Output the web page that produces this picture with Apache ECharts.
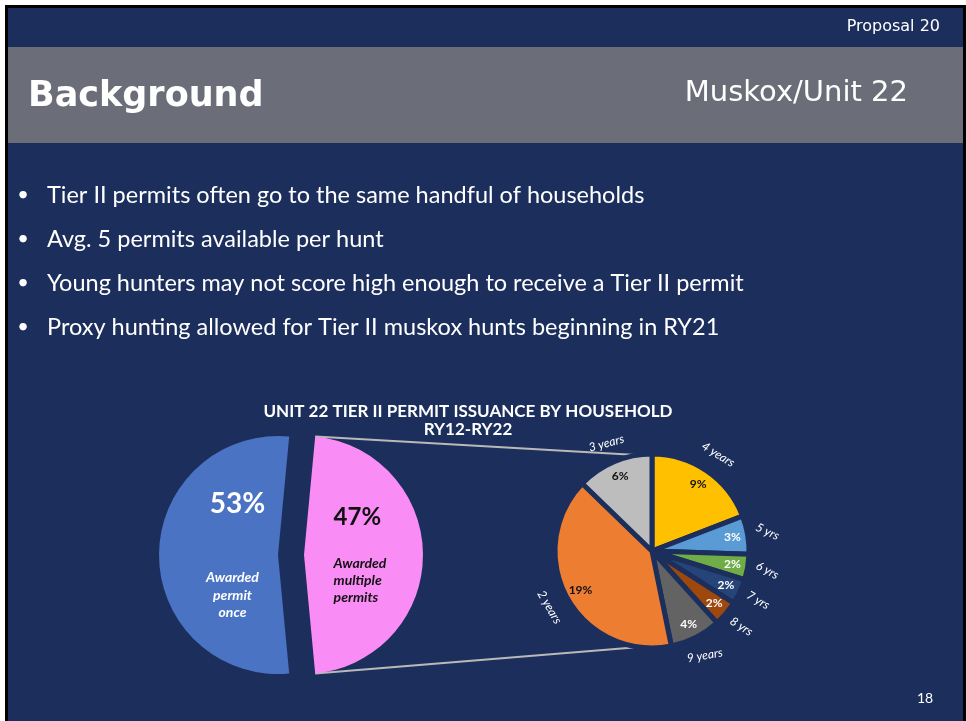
<!DOCTYPE html>
<html>
<head>
<meta charset="utf-8">
<title>Unit 22 Tier II permit issuance</title>
<script src="https://cdn.jsdelivr.net/npm/echarts@6/dist/echarts.min.js"></script>
<style>
  html, body { margin: 0; padding: 0; background: #fff; }
  #chart { width: 966px; height: 721px; }
</style>
</head>
<body>
<div id="chart"></div>
<script>
// slide text
const slideTag = 'Proposal 20'
const slideTitle = 'Background'
const slideSubtitle = 'Muskox/Unit 22'
const pageNumber = '18'
const bullets = [
  'Tier II permits often go to the same handful of households',
  'Avg. 5 permits available per hunt',
  'Young hunters may not score high enough to receive a Tier II permit',
  'Proxy hunting allowed for Tier II muskox hunts beginning in RY21'
]
const chartTitle = 'UNIT 22 TIER II PERMIT ISSUANCE BY HOUSEHOLD'
const chartSubtitle = 'RY12-RY22'

// main pie (share of households, %)
const mainNames = ['Awarded permit once', 'Awarded multiple permits']
const mainValues = [53, 47]

// breakdown of "multiple permits" (% of all households)
const yearNames = ['4 years', '5 yrs', '6 yrs', '7 yrs', '8 yrs', '9 years', '2 years', '3 years']
const yearValues = [9, 3, 2, 2, 2, 4, 19, 6]

// styles
const NAVY = '#1c2f5c'
const mainColors = ['#4a73c4', '#fa8cf5']
const yearColors = ['#ffc000', '#5b9bd5', '#70ad47', '#264478', '#9e480e', '#636363', '#ed7d31', '#bdbdbd']
const pctColors = ['#111', '#fff', '#fff', '#fff', '#fff', '#fff', '#111', '#111']
const nameRotate = [-32, -25, -28, -30, -32, 10, -60, 15]

const L = { cx: 291, cy: 555, r: 119, off: 13 }
const R = { cx: 652, cy: 551, r: 97 }

const chart = echarts.init(document.getElementById('chart'))

const total = mainValues[0] + mainValues[1]
const pinkSpan = mainValues[1] / total * 360
const mainStart = pinkSpan / 2 + (360 - pinkSpan) // keep pink centred on the right

// connector end points from the layout
const a = (pinkSpan / 2) * Math.PI / 180
const px = L.cx + L.off + L.r * Math.cos(a)
const pyTop = L.cy - L.r * Math.sin(a)
const pyBot = L.cy + L.r * Math.sin(a)

const mainLabel = function (p) {
  const words = p.name.split(' ')
  const s = p.dataIndex === 0 ? 'A' : 'B'
  return '{pct' + s + '|' + p.value + '%}\n{gap' + s + '| }\n' +
    words.map(w => '{name' + s + '|' + w + '}').join('\n')
}

const bulletGraphics = []
bullets.forEach((t, i) => {
  const y = 195 + i * 44
  bulletGraphics.push({
    type: 'text', z: 10,
    style: { text: '•', x: 23, y: y, fill: '#fff', font: '20px Lato', textAlign: 'center', textVerticalAlign: 'middle' }
  })
  bulletGraphics.push({
    type: 'text', z: 10,
    style: { text: t, x: 47, y: y, fill: '#fff', font: '23.5px Lato', textVerticalAlign: 'middle' }
  })
})

chart.setOption({
  backgroundColor: '#fff',
  animation: false,
  title: [{
    text: chartTitle + '\n' + chartSubtitle,
    left: 463,
    top: 398,
    textAlign: 'center',
    textStyle: { color: '#fff', fontFamily: 'Lato', fontWeight: 'bold', fontSize: 17, lineHeight: 18 }
  }],
  graphic: [
    { type: 'rect', z: 0, shape: { x: 5, y: 5, width: 961, height: 716 }, style: { fill: '#000' } },
    { type: 'rect', z: 0, shape: { x: 8, y: 8, width: 955, height: 713 }, style: { fill: NAVY } },
    { type: 'rect', z: 1, shape: { x: 8, y: 47, width: 955, height: 96 }, style: { fill: '#6b6e78' } },
    {
      type: 'text', z: 10,
      style: { text: slideTag, x: 940, y: 27, fill: '#fff', font: '16px "DejaVu Sans"', textAlign: 'right', textVerticalAlign: 'middle' }
    },
    {
      type: 'text', z: 10,
      style: { text: slideTitle, x: 28, y: 97, fill: '#fff', font: 'bold 35px "DejaVu Sans"', textVerticalAlign: 'middle' }
    },
    {
      type: 'text', z: 10,
      style: { text: slideSubtitle, x: 908, y: 93, fill: '#fff', font: '29px "DejaVu Sans"', textAlign: 'right', textVerticalAlign: 'middle' }
    },
    {
      type: 'text', z: 10,
      style: { text: pageNumber, x: 925, y: 698, fill: '#fff', font: '14px Lato', textAlign: 'center', textVerticalAlign: 'middle' }
    },
    { type: 'line', z: 2, shape: { x1: px, y1: pyTop, x2: R.cx + 2, y2: R.cy - R.r + 2 }, style: { stroke: '#b9b9b9', lineWidth: 2 } },
    { type: 'line', z: 2, shape: { x1: px, y1: pyBot, x2: R.cx, y2: R.cy + R.r - 2 }, style: { stroke: '#b9b9b9', lineWidth: 2 } }
  ].concat(bulletGraphics),
  series: [
    {
      type: 'pie',
      z: 5,
      silent: true,
      center: [L.cx, L.cy],
      radius: L.r,
      startAngle: mainStart,
      clockwise: true,
      selectedMode: 'multiple',
      selectedOffset: L.off,
      avoidLabelOverlap: false,
      emphasis: { disabled: true },
      data: mainNames.map((n, i) => ({
        name: n,
        value: mainValues[i],
        selected: true,
        itemStyle: { color: mainColors[i] },
        label: i === 0 ? { padding: [0, 0, 0, 34] } : { padding: [0, 13, 0, 0] }
      })),
      label: {
        show: true,
        position: 'inside',
        formatter: mainLabel,
        fontFamily: 'Lato',
        rich: {
          pctA: { fontSize: 28, fontWeight: 'bold', color: '#fff', lineHeight: 30, fontFamily: 'Lato', padding: [0, 0, 0, 10] },
          gapA: { fontSize: 10, lineHeight: 50 },
          nameA: { fontSize: 14, fontWeight: 'bold', fontStyle: 'italic', color: '#fff', lineHeight: 17.5, fontFamily: 'Lato' },
          pctB: { fontSize: 24, fontWeight: 'bold', color: '#111', lineHeight: 26, fontFamily: 'Lato', align: 'left' },
          gapB: { fontSize: 10, lineHeight: 24, align: 'left' },
          nameB: { fontSize: 14, fontWeight: 'bold', fontStyle: 'italic', color: '#111', lineHeight: 17, fontFamily: 'Lato', align: 'left' }
        }
      },
      labelLine: { show: false }
    },
    {
      type: 'pie',
      z: 5,
      silent: true,
      center: [R.cx, R.cy],
      radius: R.r,
      startAngle: 90,
      clockwise: true,
      avoidLabelOverlap: false,
      emphasis: { disabled: true },
      itemStyle: { borderColor: NAVY, borderWidth: 5 },
      data: yearNames.map((n, i) => ({ name: n, value: yearValues[i], itemStyle: { color: yearColors[i] } })),
      label: { show: false },
      labelLine: { show: false }
    },
    {
      // percentage labels
      type: 'pie',
      z: 6,
      silent: true,
      center: [R.cx, R.cy],
      radius: [60, R.r],
      startAngle: 90,
      avoidLabelOverlap: false,
      emphasis: { disabled: true },
      itemStyle: { color: 'transparent' },
      data: yearNames.map((n, i) => ({
        name: n,
        value: yearValues[i],
        label: { color: pctColors[i] }
      })),
      label: {
        show: true,
        position: 'inside',
        formatter: '{c}%',
        fontFamily: 'Lato',
        fontWeight: 'bold',
        fontSize: 12
      },
      labelLine: { show: false }
    },
    {
      // category labels outside the slices
      type: 'pie',
      z: 6,
      silent: true,
      center: [R.cx, R.cy],
      radius: [R.r, 131],
      startAngle: 90,
      avoidLabelOverlap: false,
      emphasis: { disabled: true },
      itemStyle: { color: 'transparent' },
      data: yearNames.map((n, i) => ({
        name: n,
        value: yearValues[i],
        label: { rotate: nameRotate[i] }
      })),
      label: {
        show: true,
        position: 'inside',
        formatter: '{b}',
        color: '#fff',
        fontFamily: 'Lato',
        fontStyle: 'italic',
        fontSize: 12
      },
      labelLine: { show: false }
    }
  ]
})
</script>
</body>
</html>
